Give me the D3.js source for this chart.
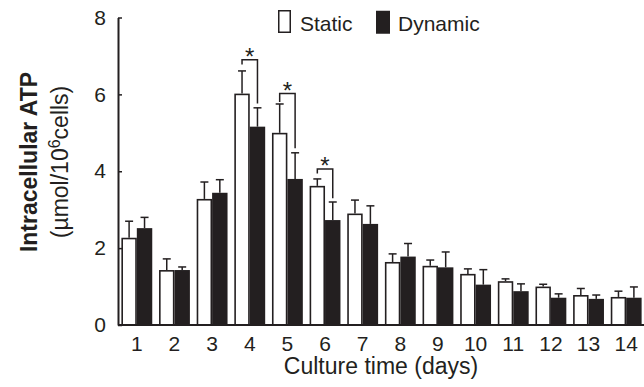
<!DOCTYPE html>
<html>
<head>
<meta charset="utf-8">
<script src="https://cdn.jsdelivr.net/npm/d3@7"></script>
<style>
  body { margin: 0; background: #fff; }
  svg { display: block; font-family: "Liberation Sans", Arial, Helvetica, sans-serif; }
</style>
</head>
<body>
<svg id="chart" width="644" height="387"></svg>
<script>
// culture days
const days = ["1", "2", "3", "4", "5", "6", "7", "8", "9", "10", "11", "12", "13", "14"];
const seriesNames = ["Static", "Dynamic"];

// mean ATP values (umol/10^6 cells) and upper error bar ends
const staticMean = [2.27, 1.43, 3.28, 6.02, 5.0, 3.62, 2.9, 1.64, 1.54, 1.33, 1.14, 1.0, 0.78, 0.73];
const staticErr  = [2.7, 1.72, 3.72, 6.61, 5.75, 3.8, 3.25, 1.85, 1.69, 1.46, 1.2, 1.06, 0.95, 0.88];
const dynamicMean = [2.52, 1.43, 3.44, 5.16, 3.8, 2.73, 2.63, 1.78, 1.5, 1.05, 0.88, 0.71, 0.68, 0.71];
const dynamicErr  = [2.8, 1.51, 3.78, 5.65, 4.48, 3.2, 3.1, 2.12, 1.9, 1.44, 1.07, 0.81, 0.78, 0.99];

const yTicks = [0, 2, 4, 6, 8];

// significance brackets: day, top of bracket, bottom of left leg, bottom of right leg
const sigDays = ["4", "5", "6"];
const sigTop = [6.9, 6.02, 4.06];
const sigLeft = [6.78, 5.8, 3.94];
const sigRight = [5.76, 4.6, 3.3];

const ink = "#231f20";

const svg = d3.select("#chart");

const x = d3.scaleBand()
  .domain(days)
  .range([118, 645])
  .paddingInner(0.18)
  .paddingOuter(0.09);

const xSub = d3.scaleBand()
  .domain(seriesNames)
  .range([0, x.bandwidth()]);

const y = d3.scaleLinear()
  .domain([0, 8])
  .range([325, 17.5]);

const rows = days.map((d, i) => ({
  day: d,
  values: [
    { name: "Static", mean: staticMean[i], err: staticErr[i] },
    { name: "Dynamic", mean: dynamicMean[i], err: dynamicErr[i] }
  ]
}));

// bars
const groups = svg.append("g").selectAll("g")
  .data(rows)
  .enter()
  .append("g")
  .attr("transform", d => "translate(" + x(d.day) + ",0)");

// error bars (drawn first so the bar outline sits on top)
groups.selectAll("g.err")
  .data(d => d.values)
  .enter()
  .append("g")
  .attr("class", "err")
  .each(function (d) {
    const g = d3.select(this);
    const cx = xSub(d.name) + xSub.bandwidth() / 2;
    g.append("line")
      .attr("x1", cx).attr("x2", cx)
      .attr("y1", y(d.mean)).attr("y2", y(d.err))
      .attr("stroke", ink).attr("stroke-width", 1.5);
    g.append("line")
      .attr("x1", cx - 4).attr("x2", cx + 4)
      .attr("y1", y(d.err)).attr("y2", y(d.err))
      .attr("stroke", ink).attr("stroke-width", 1.5);
  });

groups.selectAll("rect")
  .data(d => d.values)
  .enter()
  .append("rect")
  .attr("x", d => d.name === "Static" ? xSub(d.name) + 0.8 : xSub(d.name))
  .attr("y", d => d.name === "Static" ? y(d.mean) + 0.8 : y(d.mean))
  .attr("width", d => d.name === "Static" ? xSub.bandwidth() - 1.6 : xSub.bandwidth())
  .attr("height", d => d.name === "Static" ? y(0) - y(d.mean) - 0.8 : y(0) - y(d.mean))
  .attr("fill", d => d.name === "Static" ? "#fff" : ink)
  .attr("stroke", d => d.name === "Static" ? ink : "none")
  .attr("stroke-width", 1.6);

// significance brackets
const sig = sigDays.map((d, i) => ({ day: d, top: sigTop[i], left: sigLeft[i], right: sigRight[i] }));
const sigG = svg.append("g").selectAll("g")
  .data(sig)
  .enter()
  .append("g");

sigG.append("path")
  .attr("d", d => {
    const x1 = x(d.day) + xSub("Static") + xSub.bandwidth() / 2;
    const x2 = x(d.day) + xSub("Dynamic") + xSub.bandwidth() / 2;
    return "M" + x1 + "," + y(d.left) + "V" + y(d.top) + "H" + x2 + "V" + y(d.right);
  })
  .attr("fill", "none")
  .attr("stroke", ink)
  .attr("stroke-width", 1.5);

sigG.append("text")
  .attr("x", d => x(d.day) + x.bandwidth() / 2)
  .attr("y", d => y(d.top) + 5)
  .attr("text-anchor", "middle")
  .attr("font-size", 24)
  .attr("fill", ink)
  .text("*");

// x axis
const xAxis = svg.append("g")
  .attr("transform", "translate(0," + y(0) + ")")
  .call(d3.axisBottom(x).tickSize(0).tickPadding(11));
xAxis.select(".domain")
  .attr("d", "M118,0H644")
  .attr("stroke", ink)
  .attr("stroke-width", 2);
xAxis.selectAll("text")
  .attr("font-size", 21)
  .attr("fill", ink)
  .attr("dy", "0.71em");

// y axis, ticks point into the plot
const yAxis = svg.append("g")
  .attr("transform", "translate(118,0)")
  .call(d3.axisLeft(y).tickValues(yTicks).tickSizeInner(-4).tickSizeOuter(0).tickPadding(12));
yAxis.select(".domain")
  .attr("stroke", ink)
  .attr("stroke-width", 2);
yAxis.selectAll(".tick line")
  .attr("stroke", ink)
  .attr("stroke-width", 1.5);
yAxis.selectAll("text")
  .attr("font-size", 21)
  .attr("fill", ink);

// axis titles
svg.append("text")
  .attr("x", 381)
  .attr("y", 374)
  .attr("text-anchor", "middle")
  .attr("font-size", 23)
  .attr("fill", ink)
  .text("Culture time (days)");

const yTitle = svg.append("text")
  .attr("transform", "translate(0,162) rotate(-90)")
  .attr("text-anchor", "middle")
  .attr("fill", ink);
yTitle.append("tspan")
  .attr("x", 0)
  .attr("y", 37)
  .attr("font-size", 23)
  .attr("font-weight", "bold")
  .text("Intracellular ATP");
const line2 = yTitle.append("tspan")
  .attr("x", 0)
  .attr("y", 68)
  .attr("font-size", 23);
line2.append("tspan").text("(\u00b5mol/10");
line2.append("tspan").attr("font-size", 16).attr("dy", -8).text("6");
line2.append("tspan").attr("dy", 8).text("cells)");

// legend
const legend = svg.append("g");
const legendX = [278, 376];
seriesNames.forEach((name, i) => {
  legend.append("rect")
    .attr("x", legendX[i] + (i === 0 ? 0.75 : 0))
    .attr("y", 10.75)
    .attr("width", i === 0 ? 11.5 : 14)
    .attr("height", i === 0 ? 21.5 : 23)
    .attr("fill", i === 0 ? "#fff" : ink)
    .attr("stroke", i === 0 ? ink : "none")
    .attr("stroke-width", 1.5);
  legend.append("text")
    .attr("x", legendX[i] + 22)
    .attr("y", 31)
    .attr("font-size", 21)
    .attr("fill", ink)
    .text(name);
});
</script>
</body>
</html>
